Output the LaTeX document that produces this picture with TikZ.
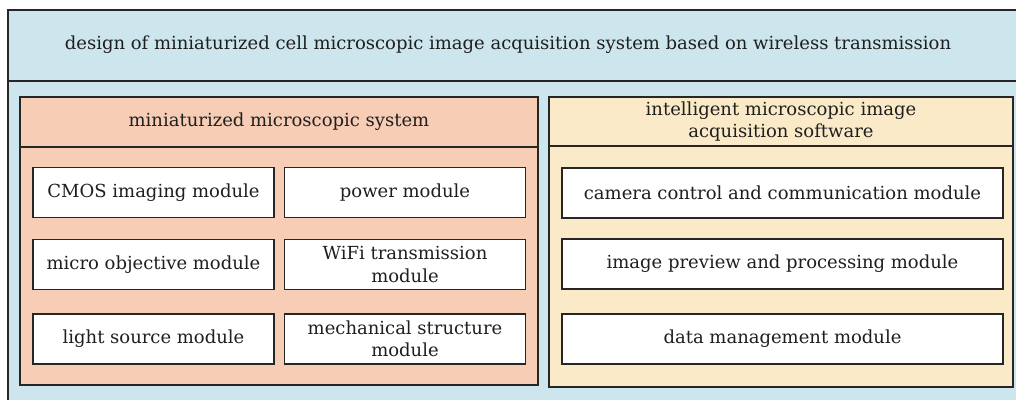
\documentclass[tikz,border=0pt]{standalone}
\usepackage{fontspec}
\setmainfont{DejaVu Serif}
\definecolor{bluebg}{RGB}{205,229,236}
\definecolor{salmon}{RGB}{247,205,182}
\definecolor{cream}{RGB}{251,234,200}
\begin{document}
\begin{tikzpicture}[x=1pt,y=-1pt,
  frame/.style={draw=black!85, line width=1.8pt},
  txt/.style={font=\fontsize{18}{22.5}\selectfont, align=center, inner sep=0pt, text=black!88},
  box/.style={frame, rectangle, inner sep=0pt},
  mod/.style={box, txt, fill=white},
]
\useasboundingbox (0,0) rectangle (1016,399);
\fill[white] (0,0) rectangle (1016,399);
% outer frame
\node[box, fill=bluebg, minimum width=1030, minimum height=420] (outer) at (523,220) {};
\node[box, fill=bluebg, minimum width=1030, minimum height=71] (band) at (523,45.5) {};
\node[txt] (title) at (508,45) {design of miniaturized cell microscopic image acquisition system based on wireless transmission};
% left panel
\node[box, fill=salmon, minimum width=518, minimum height=50, txt] (lhead) at (279,122) {miniaturized microscopic system};
\node[box, fill=salmon, minimum width=518, minimum height=238] (lbody) at (279,266) {};
% right panel
\node[box, fill=cream, minimum width=464, minimum height=49, txt] (rhead) at (781,121.5) {intelligent microscopic image\\acquisition software};
\node[box, fill=cream, minimum width=464, minimum height=241] (rbody) at (781,266.5) {};
% left modules
\begin{scope}[every node/.append style={mod, minimum width=241, minimum height=50}]
\node (cmos) at (153.5,192.5) {CMOS imaging module};
\node (obj) at (153.5,264.5) {micro objective module};
\node (light) at (153.5,339) {light source module};
\node (power) at (405,192.5) {power module};
\node (wifi) at (405,264.5) {WiFi transmission\\module};
\node (mech) at (405,339) {mechanical structure\\module};
\end{scope}
% right modules
\begin{scope}[every node/.append style={mod, minimum width=441, minimum height=50}]
\node (cam) at (782.5,193) {camera control and communication module};
\node (prev) at (782.5,264) {image preview and processing module};
\node (data) at (782.5,339) {data management module};
\end{scope}
\end{tikzpicture}
\end{document}
